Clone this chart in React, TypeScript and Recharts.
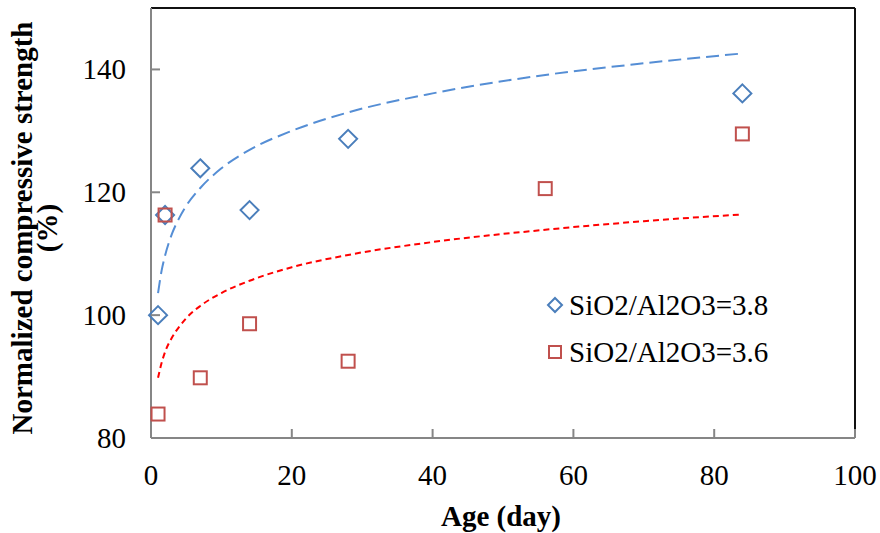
import { ScatterChart, Scatter, XAxis, YAxis, ReferenceLine, Legend } from 'recharts'

// measured data (age in days, normalized strength in %)
const ageBlue = [1, 2, 7, 14, 28, 84]
const strengthBlue = [100, 116.3, 123.9, 117.1, 128.7, 136.1]
const ageRed = [1, 2, 7, 14, 28, 56, 84]
const strengthRed = [83.9, 116.3, 89.8, 98.6, 92.5, 120.6, 129.5]

// log trend lines
const trendAge = [1, 1.5, 2, 3, 4, 5, 7, 10, 14, 20, 28, 40, 56, 70, 84]
const trendBlue = [103.6, 107.2, 109.7, 113.3, 115.8, 117.8, 120.7, 123.9, 126.9, 130.0, 133.0, 136.1, 139.1, 141.0, 142.6]
const trendRed = [89.8, 92.2, 94.0, 96.4, 98.1, 99.5, 101.5, 103.6, 105.6, 107.8, 109.8, 111.9, 113.9, 115.3, 116.4]

const xTicks = [0, 20, 40, 60, 80, 100]
const yTicks = [80, 100, 120, 140]

const labelBlue = 'SiO2/Al2O3=3.8'
const labelRed = 'SiO2/Al2O3=3.6'

const FONT = "'Liberation Serif', 'Times New Roman', serif"
const BLUE = '#4A7EBB'
const RED = '#C0504D'
const AXIS = '#868686'

const pairs = (xs: number[], ys: number[]) => xs.map((x, i) => ({ x, y: ys[i] }))

const blueData = pairs(ageBlue, strengthBlue)
const redData = pairs(ageRed, strengthRed)
const blueTrendData = pairs(trendAge, trendBlue)
const redTrendData = pairs(trendAge, trendRed)

const Diamond = ({ cx, cy, r = 9 }: any) => (
  <path
    d={`M${cx},${cy - r}L${cx + r},${cy}L${cx},${cy + r}L${cx - r},${cy}Z`}
    fill="none"
    stroke={BLUE}
    strokeWidth={2}
  />
)

const Square = ({ cx, cy, r = 6.5 }: any) => (
  <rect x={cx - r} y={cy - r} width={r * 2} height={r * 2} fill="none" stroke={RED} strokeWidth={2} />
)

const NoDot = () => <g />

const YTick = ({ x, y, payload }: any) => (
  <g>
    <line x1={x} x2={x + 9} y1={y} y2={y} stroke={AXIS} strokeWidth={2} />
    <text x={x - 25} y={y} dy="0.34em" textAnchor="end" style={{ fontFamily: FONT }} fontSize={29} fill="#000">
      {payload.value}
    </text>
  </g>
)

const XTick = ({ x, y, payload }: any) => (
  <g>
    <line x1={x} x2={x} y1={y} y2={y - 9} stroke={AXIS} strokeWidth={2} />
    <text x={x} y={y + 47} textAnchor="middle" style={{ fontFamily: FONT }} fontSize={29} fill="#000">
      {payload.value}
    </text>
  </g>
)

const YTitle = ({ viewBox }: any) => {
  const cy = viewBox.y + viewBox.height / 2 + 5
  return (
    <g style={{ fontFamily: FONT }} fontSize={29} fontWeight="bold" fill="#000">
      <text x={32} y={cy} textAnchor="middle" transform={`rotate(-90, 32, ${cy})`}>
        Normalized compressive strength
      </text>
      <text x={57} y={cy} textAnchor="middle" transform={`rotate(-90, 57, ${cy})`}>
        (%)
      </text>
    </g>
  )
}

const XTitle = ({ viewBox }: any) => (
  <text
    x={viewBox.x + viewBox.width / 2 - 2}
    y={viewBox.y + 88}
    textAnchor="middle"
    style={{ fontFamily: FONT }}
    fontSize={29}
    fontWeight="bold"
    fill="#000"
  >
    Age (day)
  </text>
)

const renderLegend = () => (
  <svg width={240} height={90} style={{ display: 'block' }}>
    <Diamond cx={10} cy={17} r={7} />
    <text x={24} y={27} style={{ fontFamily: FONT }} fontSize={29} fill="#000">
      {labelBlue}
    </text>
    <Square cx={10} cy={64} r={6} />
    <text x={24} y={74} style={{ fontFamily: FONT }} fontSize={29} fill="#000">
      {labelRed}
    </text>
  </svg>
)

export default function App() {
  return (
    <div style={{ position: 'absolute', left: 0, top: 0, background: '#fff' }}>
      <ScatterChart width={880} height={533} margin={{ top: 8, right: 25, bottom: 0, left: 0 }}>
        <XAxis
          type="number"
          dataKey="x"
          domain={[0, 100]}
          ticks={xTicks}
          tickSize={0}
          tickMargin={0}
          tickLine={false}
          tick={<XTick />}
          axisLine={{ stroke: AXIS, strokeWidth: 2 }}
          height={95}
          label={{ content: <XTitle /> }}
        />
        <YAxis
          type="number"
          dataKey="y"
          domain={[80, 150]}
          ticks={yTicks}
          tickSize={0}
          tickMargin={0}
          tickLine={false}
          tick={<YTick />}
          axisLine={{ stroke: AXIS, strokeWidth: 2 }}
          width={151}
          label={{ content: <YTitle /> }}
        />
        <ReferenceLine y={150} stroke="#111" strokeWidth={2} />
        <ReferenceLine x={100} stroke="#111" strokeWidth={2} />
        <Scatter
          data={blueTrendData}
          shape={<NoDot />}
          line={{ stroke: '#558ED5', strokeWidth: 2, strokeDasharray: '13 6' }}
          lineJointType="monotoneX"
          legendType="none"
          isAnimationActive={false}
        />
        <Scatter
          data={redTrendData}
          shape={<NoDot />}
          line={{ stroke: '#FF0000', strokeWidth: 2, strokeDasharray: '6 4' }}
          lineJointType="monotoneX"
          legendType="none"
          isAnimationActive={false}
        />
        <Scatter name={labelBlue} data={blueData} shape={<Diamond />} isAnimationActive={false} />
        <Scatter name={labelRed} data={redData} shape={<Square />} isAnimationActive={false} />
        <Legend
          layout="horizontal"
          verticalAlign="middle"
          content={renderLegend}
          wrapperStyle={{ position: 'absolute', left: 545, top: 288, width: 240, height: 90 }}
        />
      </ScatterChart>
    </div>
  )
}
